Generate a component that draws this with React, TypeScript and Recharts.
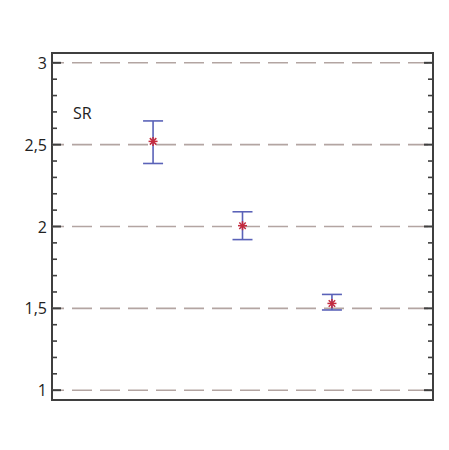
import React from "react";
import {
    ErrorBar,
    ReferenceArea,
    ReferenceLine,
    Scatter,
    ScatterChart,
    XAxis,
    YAxis,
} from "recharts";

// group positions on the x axis and the measured values
const groups = [1, 2, 3];
const means = [2.52, 2.005, 1.53];
const lower = [2.385, 1.92, 1.49];
const upper = [2.645, 2.09, 1.585];

// y ticks: majors carry labels, the rest are minor marks
const majorTicks = [1, 1.5, 2, 2.5, 3];
const allTicks = [
    1, 1.1, 1.2, 1.3, 1.4, 1.5, 1.6, 1.7, 1.8, 1.9, 2, 2.1, 2.2, 2.3, 2.4,
    2.5, 2.6, 2.7, 2.8, 2.9, 3,
];

const xDomain = [-0.13, 4.13];
const yDomain = [0.94, 3.06];

const chartData = groups.map((g, i) => ({
    x: g,
    y: means[i],
    err: [means[i] - lower[i], upper[i] - means[i]],
}));

const FRAME = "#3f3f3f";
const GRID = "#b3a5a2";
const BAR = "#5a62b8";
const STAR = "#c42a3e";
const EDGE = "#3ec0ef";
const FONT = "'Open Sans', sans-serif";

const isMajor = (v: number) => Math.abs(v * 2 - Math.round(v * 2)) < 1e-6;

function LeftTick(props: any) {
    const { x, y, payload } = props;
    const v = payload.value as number;
    const major = isMajor(v);
    return (
        <g>
            <line
                x1={x}
                y1={y}
                x2={x + (major ? 9 : 5)}
                y2={y}
                stroke={FRAME}
                strokeWidth={major ? 2 : 1.6}
            />
            {major && (
                <text
                    x={x - 5}
                    y={y}
                    textAnchor="end"
                    dominantBaseline="central"
                    fontFamily={FONT}
                    fontSize={16}
                    fill="#222"
                >
                    {String(v).replace(".", ",")}
                </text>
            )}
        </g>
    );
}

function RightTick(props: any) {
    const { x, y, payload } = props;
    const major = isMajor(payload.value);
    return (
        <line
            x1={x}
            y1={y}
            x2={x - (major ? 9 : 5)}
            y2={y}
            stroke={FRAME}
            strokeWidth={major ? 2 : 1.6}
        />
    );
}

function Asterisk(props: any) {
    const { cx, cy } = props;
    const r = 4.5;
    const d = r * 0.72;
    return (
        <g stroke={STAR} strokeWidth={1.5}>
            <line x1={cx - r} y1={cy} x2={cx + r} y2={cy} />
            <line x1={cx} y1={cy - r} x2={cx} y2={cy + r} />
            <line x1={cx - d} y1={cy - d} x2={cx + d} y2={cy + d} />
            <line x1={cx - d} y1={cy + d} x2={cx + d} y2={cy - d} />
        </g>
    );
}

export default function App() {
    return (
        <div
            style={{
                position: "relative",
                marginLeft: -8,
                marginTop: -8,
                width: 449,
                height: 450,
                background: "#fff",
            }}
        >
            <div style={{ position: "absolute", left: 0, top: 0 }}>
                <ScatterChart
                    width={449}
                    height={450}
                    margin={{ top: 53, right: 6, bottom: 50, left: 12 }}
                >
                    {/* page edge, top and left only */}
                    <rect
                        x={3}
                        y={3}
                        width={480}
                        height={480}
                        fill="none"
                        stroke={EDGE}
                        strokeWidth={2.5}
                    />
                    <text
                        x={73}
                        y={113}
                        dominantBaseline="central"
                        fontFamily={FONT}
                        fontSize={16}
                        fill="#222"
                    >
                        SR
                    </text>
                    <XAxis
                        type="number"
                        dataKey="x"
                        domain={xDomain}
                        allowDataOverflow
                        hide
                    />
                    <YAxis
                        yAxisId="left"
                        type="number"
                        dataKey="y"
                        domain={yDomain}
                        allowDataOverflow
                        ticks={allTicks}
                        interval={0}
                        width={40}
                        axisLine={false}
                        tickLine={false}
                        tickSize={0}
                        tickMargin={0}
                        tick={<LeftTick />}
                    />
                    <YAxis
                        yAxisId="right"
                        orientation="right"
                        type="number"
                        domain={yDomain}
                        allowDataOverflow
                        ticks={allTicks}
                        interval={0}
                        width={10}
                        axisLine={false}
                        tickLine={false}
                        tickSize={0}
                        tickMargin={0}
                        tick={<RightTick />}
                    />
                    {majorTicks.map((v) => (
                        <ReferenceLine
                            key={v}
                            yAxisId="left"
                            y={v}
                            stroke={GRID}
                            strokeWidth={1.6}
                            strokeDasharray="20 8"
                            strokeDashoffset={8}
                        />
                    ))}
                    <ReferenceArea
                        yAxisId="left"
                        x1={xDomain[0]}
                        x2={xDomain[1]}
                        y1={yDomain[0]}
                        y2={yDomain[1]}
                        fill="none"
                        fillOpacity={0}
                        stroke={FRAME}
                        strokeWidth={2}
                        strokeOpacity={1}
                    />
                    <Scatter
                        yAxisId="left"
                        data={chartData}
                        shape={<Asterisk />}
                        isAnimationActive={false}
                    >
                        <ErrorBar
                            dataKey="err"
                            direction="y"
                            width={10}
                            stroke={BAR}
                            strokeWidth={1.6}
                        />
                    </Scatter>
                </ScatterChart>
            </div>
        </div>
    );
}
